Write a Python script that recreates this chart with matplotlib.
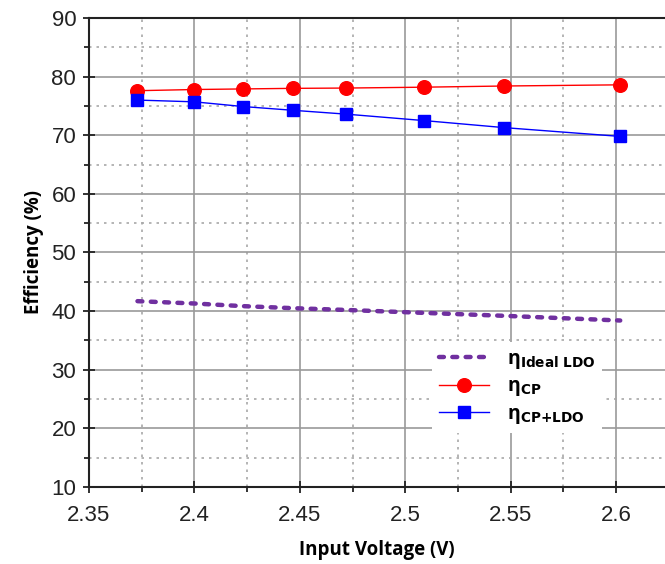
import matplotlib
matplotlib.use("Agg")
import matplotlib.pyplot as plt
from matplotlib.ticker import MultipleLocator

voltage = [2.373, 2.400, 2.423, 2.447, 2.472, 2.509, 2.547, 2.602]
eta_cp = [77.6, 77.8, 77.9, 78.0, 78.05, 78.2, 78.4, 78.6]
eta_cp_ldo = [76.0, 75.7, 74.9, 74.25, 73.6, 72.5, 71.3, 69.8]
eta_ideal_ldo = [41.7, 41.3, 40.85, 40.5, 40.2, 39.7, 39.2, 38.4]

xticks = [2.35, 2.4, 2.45, 2.5, 2.55, 2.6]
xticklabels = ["2.35", "2.4", "2.45", "2.5", "2.55", "2.6"]
yticks = [10, 20, 30, 40, 50, 60, 70, 80, 90]

plt.rcParams['font.family'] = ['Liberation Sans', 'DejaVu Sans']

W, H = 665, 564
fig = plt.figure(figsize=(W / 100, H / 100), dpi=100)
ax = fig.add_axes([89 / W, 77 / H, (W - 89) / W, 469 / H])

ax.plot(voltage, eta_ideal_ldo, color='#7030A0', lw=3.2, dashes=(1.1, 1.9),
        dash_capstyle='round', label='η$_{\\mathbf{Ideal\\ LDO}}$', zorder=3)
ax.plot(voltage, eta_cp, color='#FF0000', lw=1.0, marker='o', ms=9.8,
        label='η$_{\\mathbf{CP}}$', zorder=4)
ax.plot(voltage, eta_cp_ldo, color='#0000FF', lw=1.0, marker='s', ms=8,
        label='η$_{\\mathbf{CP{+}LDO}}$', zorder=4)

ax.set_xlim(2.35, 2.35 + 576 / 2108)
ax.set_ylim(10, 90)
ax.set_xticks(xticks)
ax.set_xticklabels(xticklabels)
ax.set_yticks(yticks)
ax.xaxis.set_minor_locator(MultipleLocator(0.025))
ax.yaxis.set_minor_locator(MultipleLocator(5))

ax.grid(which='major', color='#9a9a9a', lw=1.2, ls='-')
ax.grid(which='minor', color='#a8a8a8', lw=1.2, ls=(0, (1.5, 3)))
ax.set_axisbelow(True)

for s in ['left', 'bottom', 'top']:
    ax.spines[s].set_linewidth(1.5)
    ax.spines[s].set_color('#222222')
ax.spines['right'].set_visible(False)

ax.tick_params(which='major', direction='inout', length=8.5, width=1.3,
               labelsize=16, colors='#222222')
ax.tick_params(axis='x', which='major', pad=9)
ax.tick_params(axis='y', which='major', pad=5)
ax.tick_params(which='minor', direction='out', length=3.5, width=1.3, colors='#222222')
ax.tick_params(axis='y', which='both', right=False)
ax.tick_params(axis='x', which='both', top=False)

ax.set_xlabel('Input Voltage (V)', fontsize=13.5, fontweight='bold',
              family=['Open Sans', 'DejaVu Sans'], labelpad=10)
ax.set_ylabel('Efficiency (%)', fontsize=13.5, fontweight='bold',
              family=['Open Sans', 'DejaVu Sans'], labelpad=5)

leg = ax.legend(loc='upper left', bbox_to_anchor=(422 / W, 1 - 332 / H),
                bbox_transform=fig.transFigure, frameon=True, facecolor='white',
                edgecolor='none', framealpha=1, fancybox=False,
                prop={'family': ['Open Sans', 'DejaVu Sans'], 'weight': 'bold', 'size': 14},
                handlelength=2.6, labelspacing=0.3, borderpad=0.35, handletextpad=0.9)

fig.savefig('out.png', dpi=100)
